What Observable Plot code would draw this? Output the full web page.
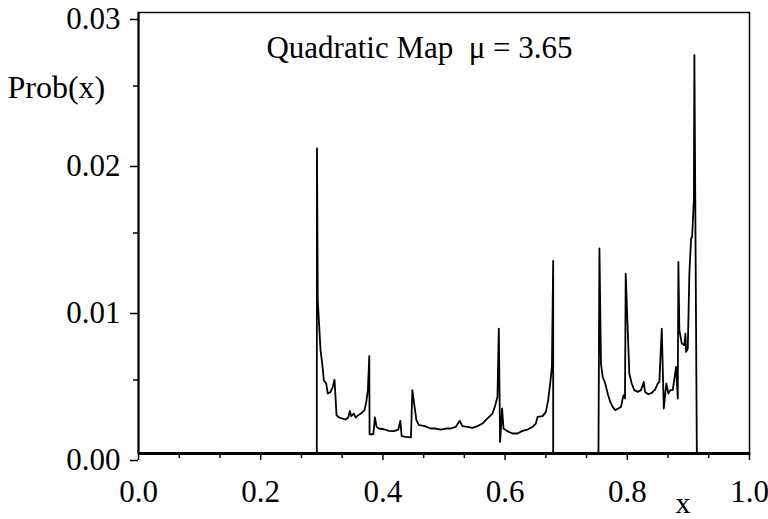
<!DOCTYPE html>
<html><head><meta charset="utf-8">
<script src="https://cdn.jsdelivr.net/npm/d3@7"></script>
<script src="https://cdn.jsdelivr.net/npm/@observablehq/plot@0.6"></script>
<style>body{margin:0;background:#fff}</style>
</head><body><div id="chart"></div>
<script>
const xValues = [0, 0.2918, 0.2921, 0.2934, 0.2979, 0.3007, 0.3033, 0.3072, 0.3098, 0.3143, 0.3180, 0.3208, 0.3241, 0.3279, 0.3334, 0.3389, 0.3433, 0.3459, 0.3482, 0.3525, 0.3552, 0.3597, 0.3651, 0.3700, 0.3728, 0.3754, 0.3777, 0.3782, 0.3843, 0.3869, 0.3897, 0.3934, 0.4016, 0.4098, 0.4180, 0.4252, 0.4285, 0.4307, 0.4372, 0.4459, 0.4482, 0.4508, 0.4548, 0.4590, 0.4672, 0.4782, 0.4864, 0.4946, 0.5028, 0.5110, 0.5192, 0.5257, 0.5302, 0.5384, 0.5466, 0.5548, 0.5630, 0.5684, 0.5738, 0.5793, 0.5831, 0.5875, 0.5897, 0.5918, 0.5951, 0.5974, 0.6039, 0.6121, 0.6203, 0.6285, 0.6367, 0.6449, 0.6503, 0.6531, 0.6613, 0.6667, 0.6705, 0.6738, 0.6766, 0.6787, 0.6787, 0.7528, 0.7544, 0.7569, 0.7597, 0.7639, 0.7679, 0.7721, 0.7761, 0.7803, 0.7852, 0.7897, 0.7925, 0.7941, 0.7962, 0.7974, 0.8033, 0.8072, 0.8115, 0.8170, 0.8225, 0.8269, 0.8290, 0.8344, 0.8400, 0.8454, 0.8498, 0.8525, 0.8564, 0.8597, 0.8639, 0.8672, 0.8705, 0.8744, 0.8798, 0.8826, 0.8836, 0.8852, 0.8892, 0.8934, 0.8951, 0.8962, 0.8990, 0.9016, 0.9044, 0.9061, 0.9089, 0.9098, 0.9138, 1.0];
const probValues = [0, 0, 0.02075, 0.01043, 0.00703, 0.00612, 0.00499, 0.00476, 0.00408, 0.00419, 0.00453, 0.00503, 0.00261, 0.00245, 0.00238, 0.00231, 0.00245, 0.00290, 0.00254, 0.00272, 0.00245, 0.00261, 0.00276, 0.00295, 0.00351, 0.00431, 0.00662, 0.00131, 0.00131, 0.00245, 0.00181, 0.00170, 0.00165, 0.00154, 0.00152, 0.00163, 0.00222, 0.00118, 0.00113, 0.00109, 0.00431, 0.00351, 0.00227, 0.00193, 0.00188, 0.00170, 0.00170, 0.00163, 0.00170, 0.00170, 0.00181, 0.00222, 0.00186, 0.00181, 0.00174, 0.00186, 0.00204, 0.00227, 0.00249, 0.00272, 0.00317, 0.00385, 0.00850, 0.00079, 0.00306, 0.00170, 0.00152, 0.00136, 0.00136, 0.00154, 0.00163, 0.00181, 0.00204, 0.00249, 0.00254, 0.00283, 0.00363, 0.00476, 0.00589, 0.01310, 0, 0, 0.01395, 0.00612, 0.00521, 0.00476, 0.00408, 0.00351, 0.00317, 0.00295, 0.00306, 0.00317, 0.00374, 0.00397, 0.00374, 0.01224, 0.00544, 0.00476, 0.00431, 0.00419, 0.00431, 0.00487, 0.00419, 0.00403, 0.00412, 0.00435, 0.00476, 0.00487, 0.00850, 0.00306, 0.00476, 0.00408, 0.00431, 0.00431, 0.00589, 0.00374, 0.01303, 0.00839, 0.00748, 0.00737, 0.00816, 0.00691, 0.00714, 0.01224, 0.01463, 0.01473, 0.01723, 0.02710, 0, 0];
const xMajorTicks = [0, 0.2, 0.4, 0.6, 0.8, 1.0];
const xMinorTicks = [0.0667, 0.1333, 0.2667, 0.3333, 0.4667, 0.5333, 0.6667, 0.7333, 0.8667, 0.9333];
const yMajorTicks = [0, 0.01, 0.02, 0.03];
const yMinorTicks = [0.005, 0.015, 0.025];
const titleText = "Quadratic Map\u00a0\u00a0\u03bc = 3.65";
const yLabel = "Prob(x)";
const xLabel = "x";

const data = xValues.map((x, i) => ({x, p: probValues[i]}));
const font = "'Liberation Serif', 'Times New Roman', serif";

const chart = Plot.plot({
  width: 768, height: 519,
  marginLeft: 138, marginRight: 19, marginTop: 12, marginBottom: 66,
  style: {fontFamily: font, background: "white", color: "black"},
  x: {domain: [0, 1], label: null},
  y: {domain: [0, 0.03], label: null},
  marks: [
    Plot.line(data, {x: "x", y: "p", stroke: "black", strokeWidth: 1.8}),
    Plot.frame({stroke: "black", strokeWidth: 1.5}),
    Plot.ruleY([0], {stroke: "black", strokeWidth: 3}),
    Plot.ruleX([0], {stroke: "black", strokeWidth: 2}),
    Plot.axisX(xMinorTicks, {tickSize: 5, tickFormat: () => "", strokeWidth: 1.5, label: null}),
    Plot.axisX(xMajorTicks, {tickSize: 7, tickPadding: 19, tickFormat: d => d.toFixed(1), fontSize: 31, strokeWidth: 1.5, label: null}),
    Plot.axisY(yMinorTicks, {tickSize: 5, tickFormat: () => "", strokeWidth: 1.5, label: null}),
    Plot.axisY(yMajorTicks, {tickSize: 8, tickPadding: 10, tickFormat: d => d.toFixed(2), fontSize: 31, dy: 7, strokeWidth: 1.5, label: null}),
    Plot.text([titleText], {frameAnchor: "top", lineAnchor: "middle", dx: -24.5, dy: 36, fontSize: 31, text: d => d, fill: "black"}),
    Plot.text([yLabel], {frameAnchor: "top-left", lineAnchor: "middle", textAnchor: "start", dx: -131, dy: 75, fontSize: 32, text: d => d, fill: "black"}),
    Plot.text([xLabel], {frameAnchor: "bottom-right", lineAnchor: "middle", dx: -59, dy: 50, fontSize: 30, text: d => d, fill: "black"})
  ]
});
document.getElementById("chart").appendChild(chart);
</script>
</body></html>
